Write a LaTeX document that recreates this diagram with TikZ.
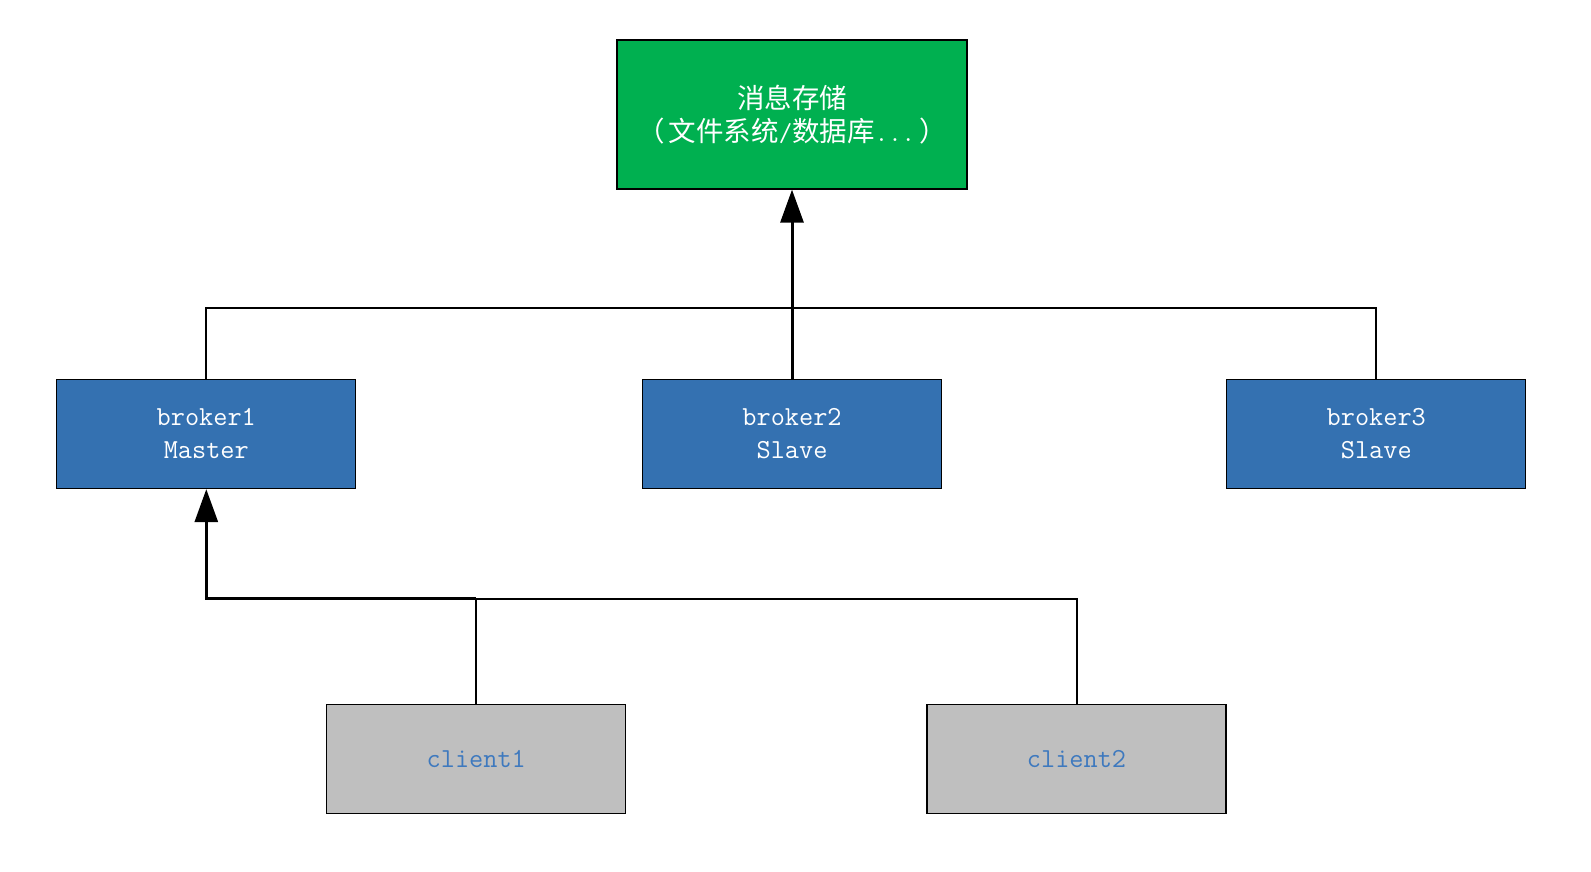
\documentclass[tikz,border=0pt]{standalone}
\usepackage{fontspec}
\newfontfamily\cjk{Noto Sans CJK SC}
\usetikzlibrary{arrows.meta}
\definecolor{storegreen}{HTML}{00B050}
\definecolor{brokerblue}{HTML}{3471B1}
\definecolor{clientgray}{HTML}{BFBFBF}
\definecolor{clienttext}{HTML}{3E79BE}
\begin{document}
\begin{tikzpicture}[x=1pt,y=-1pt,
  box/.style={draw=black,line width=1.3pt,minimum width=299pt,minimum height=109pt,inner sep=0pt,align=center,font=\ttfamily\fontsize{27.5}{33}\selectfont},
  brokerbox/.style={box,fill=brokerblue,text=white},
  clientbox/.style={box,fill=clientgray,text=clienttext},
  storebox/.style={box,fill=storegreen,text=white,minimum width=350pt,minimum height=149pt,font=\cjk\fontsize{27.5}{33}\selectfont},
  thinline/.style={draw=black,line width=2pt},
  thickline/.style={draw=black,line width=3pt},
  arrowline/.style={thickline,-{Triangle[length=33pt,width=23pt]}}]
\useasboundingbox (0,0) rectangle (1591,871);
\fill[white] (0,0) rectangle (1591,871);

\node[storebox] (store) at (792,114.5) {消息存储\\（\hspace{4pt}文件系统{\ttfamily\fontsize{26}{33}\selectfont/}数据库{\ttfamily\fontsize{26}{33}\selectfont...}\hspace{4pt}）};
\node[brokerbox] (b1) at (206.3,434) {broker1\\Master};
\node[brokerbox] (b2) at (792,434) {broker2\\Slave};
\node[brokerbox] (b3) at (1376.3,434) {broker3\\Slave};
\node[clientbox] (c1) at (476.3,759.3) {client1};
\node[clientbox] (c2) at (1076.5,759.3) {client2};

\coordinate (bj) at (792,307.5);
\coordinate (cj) at (476.3,598.5);

\draw[thinline] (b1.north) |- (bj) -| (b3.north);
\draw[arrowline] (b2.north) -- (store.south);
\draw[thinline] (c2.north) |- (cj);
\draw[thinline] (c1.north) -- (cj);
\draw[arrowline] (cj) -| (b1.south);
\end{tikzpicture}
\end{document}
